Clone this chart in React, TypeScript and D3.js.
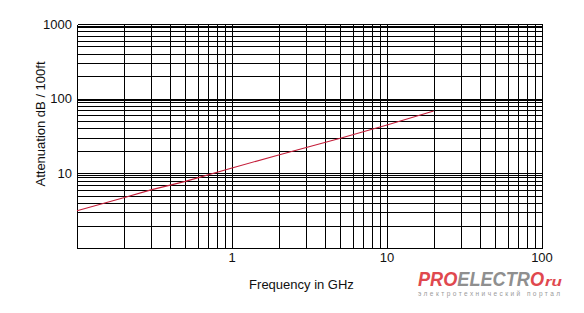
import React from "react";
import * as d3 from "d3";

const freqGHz = [0.1, 0.2, 0.3, 0.5, 1, 2, 5, 10, 20];
const attenuation = [3.16, 4.72, 6.0, 7.8, 11.8, 17.6, 29.5, 44.5, 68.4];

const xDecades = [0.1, 1, 10];
const xMultipliers = [1, 2, 3, 4, 5, 6, 7, 8, 9];
const yDecades = [1, 10, 100];
const yMultipliers = [1, 2, 3, 4, 5, 6, 7, 8, 9, 9.5];
const xTickLabels = [1, 10, 100];
const yTickLabels = [10, 100, 1000];

const W = 584;
const H = 313;
const left = 77;
const right = 542;
const top = 24;
const bottom = 248;

const snap = (v: number) => Math.round(v) + 0.5;

export default function App() {
  const x = d3.scaleLog().domain([0.1, 100]).range([left, right]);
  const y = d3.scaleLog().domain([1, 1000]).range([bottom, top]);

  const xGrid: number[] = [];
  xDecades.forEach((d) => xMultipliers.forEach((m) => xGrid.push(d * m)));
  xGrid.push(100);
  const yGrid: number[] = [];
  yDecades.forEach((d) => yMultipliers.forEach((m) => yGrid.push(d * m)));
  yGrid.push(1000);

  const pts = freqGHz.map((f, i) => [f, attenuation[i]] as [number, number]);
  const line = d3
    .line<[number, number]>()
    .x((d) => x(d[0]))
    .y((d) => y(d[1]))(pts);

  const font = "Liberation Sans, Arial, sans-serif";

  return (
    <svg
      width={W}
      height={H}
      style={{ position: "absolute", left: 0, top: 0, background: "#fff" }}
    >
      <rect x={0} y={0} width={W} height={H} fill="#fff" />
      <g stroke="#000" strokeWidth={1} shapeRendering="crispEdges">
        {xGrid.map((v, i) => (
          <line
            key={"x" + i}
            x1={snap(x(v))}
            x2={snap(x(v))}
            y1={snap(y(1000))}
            y2={snap(y(1))}
          />
        ))}
        {yGrid.map((v, i) => (
          <line
            key={"y" + i}
            x1={snap(x(0.1))}
            x2={snap(x(100))}
            y1={snap(y(v))}
            y2={snap(y(v))}
          />
        ))}
      </g>
      <path d={line || ""} fill="none" stroke="#c41e3a" strokeWidth={1.1} />
      <g fontFamily={font} fontSize={13} fill="#111">
        {yTickLabels.map((v) => (
          <text key={"yl" + v} x={72} y={y(v) + 4.5} textAnchor="end">
            {v}
          </text>
        ))}
        {xTickLabels.map((v) => (
          <text key={"xl" + v} x={x(v)} y={262} textAnchor="middle">
            {v}
          </text>
        ))}
        <text x={301.5} y={289} textAnchor="middle">
          Frequency in GHz
        </text>
        <text transform={`translate(45,124) rotate(-90)`} textAnchor="middle">
          Attenuation dB / 100ft
        </text>
      </g>
      <g fontFamily={font} fontWeight="bold" fontStyle="italic">
        <text
          x={418}
          y={286}
          fontSize={21}
          textLength={126}
          lengthAdjust="spacingAndGlyphs"
        >
          <tspan fill="#e0484e">PRO</tspan>
          <tspan fill="#8f8f8f">ELECTR</tspan>
          <tspan fill="#e0484e">O</tspan>
        </text>
        <text
          x={545}
          y={286}
          fontSize={13}
          fill="#e0484e"
          textLength={17}
          lengthAdjust="spacingAndGlyphs"
        >
          ru
        </text>
      </g>
      <text
        x={418}
        y={296}
        fontFamily={font}
        fontSize={6.5}
        fill="#9a9a9a"
        textLength={142}
        lengthAdjust="spacing"
      >
        электротехнический портал
      </text>
    </svg>
  );
}
